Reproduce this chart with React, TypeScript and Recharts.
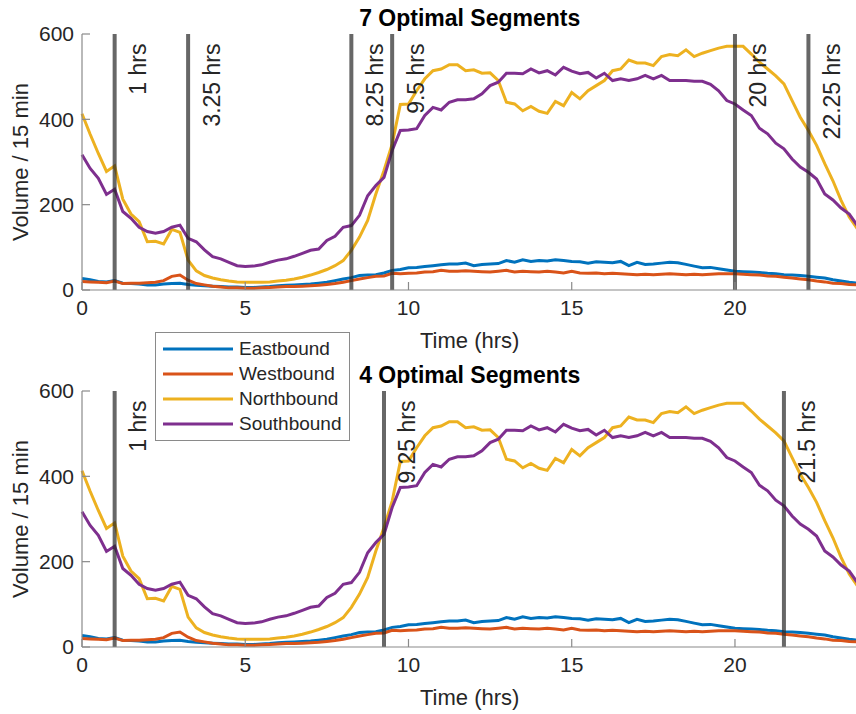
import { LineChart, Line, XAxis, YAxis, ReferenceLine, Legend } from 'recharts';

// volume per 15 min, 0:00 .. 23:45
const eastbound = [
  27, 24, 20, 19, 22, 16, 15, 14, 12, 12, 14, 15, 16, 13, 11, 10,
  9, 8, 7, 7, 6, 6, 7, 8, 10, 11, 12, 13, 14, 16, 18, 22,
  26, 29, 34, 35, 36, 40, 46, 48, 52, 53, 55, 57, 59, 61, 61, 63,
  57, 60, 61, 62, 69, 65, 71, 67, 69, 68, 71, 69, 67, 66, 63, 66,
  65, 64, 67, 57, 65, 60, 61, 63, 65, 64, 60, 56, 52, 53, 50, 47,
  44, 43, 42, 41, 39, 38, 36, 35, 34, 32, 30, 28, 24, 21, 18, 16,
];
const westbound = [
  20, 19, 18, 17, 21, 15, 16, 16, 17, 18, 22, 32, 35, 23, 15, 12,
  9, 7, 5, 5, 4, 4, 5, 6, 7, 8, 8, 9, 10, 11, 13, 15,
  18, 22, 26, 29, 32, 33, 39, 38, 39, 40, 42, 43, 46, 44, 44, 45,
  44, 43, 42, 44, 46, 42, 44, 43, 42, 44, 42, 40, 44, 40, 39, 40,
  38, 39, 38, 37, 36, 37, 36, 37, 38, 37, 36, 37, 36, 37, 38, 38,
  38, 37, 36, 35, 33, 32, 30, 28, 26, 24, 21, 19, 16, 15, 13, 12,
];
const northbound = [
  413, 365, 320, 278, 291, 213, 178, 160, 113, 114, 108, 142, 135, 70, 45, 34,
  28, 24, 21, 19, 18, 18, 18, 19, 21, 23, 26, 30, 35, 41, 48, 57,
  69, 93, 124, 163, 225, 280, 342, 435, 436, 467, 495, 514, 518, 528, 528, 514,
  516, 508, 509, 491, 440, 436, 420, 430, 419, 414, 442, 432, 463, 448, 467, 479,
  491, 514, 518, 539, 532, 532, 526, 547, 552, 549, 563, 547, 555, 561, 567, 571,
  571, 571, 553, 534, 518, 502, 483, 444, 405, 374, 339, 296, 256, 210, 171, 143,
];
const southbound = [
  317, 285, 262, 224, 236, 184, 168, 147, 137, 133, 137, 147, 152, 121, 113, 94,
  78, 73, 65, 57, 55, 56, 59, 65, 70, 73, 79, 86, 93, 96, 116, 126,
  147, 151, 175, 221, 245, 264, 327, 374, 375, 378, 409, 428, 422, 440, 446, 446,
  448, 460, 479, 487, 508, 508, 507, 518, 509, 514, 504, 522, 513, 507, 510, 497,
  508, 491, 495, 491, 495, 503, 495, 503, 491, 491, 491, 489, 489, 482, 467, 444,
  436, 422, 409, 379, 366, 344, 331, 307, 288, 276, 260, 225, 211, 192, 178, 151,
];
const hours = eastbound.map((_, i) => i / 4);

const topBreaks = [1, 3.25, 8.25, 9.5, 20, 22.25];
const bottomBreaks = [1, 9.25, 21.5];
const xTicks = [0, 5, 10, 15, 20];
const yTicks = [0, 200, 400, 600];
const legendOrder = ['Eastbound', 'Westbound', 'Northbound', 'Southbound'];

const data = hours.map((h, i) => ({
  h,
  eb: eastbound[i],
  wb: westbound[i],
  nb: northbound[i],
  sb: southbound[i],
}));

const FONT = '"Liberation Sans", Arial, Helvetica, sans-serif';
const AXIS = '#8a8a8a';
const INK = '#262626';
const LW = 3;

const tickStyle = { fontSize: 21, fill: INK, fontFamily: FONT };

function breakLabel(text: string) {
  return (p: any) => {
    const vb = p.viewBox ?? p;
    const x = vb.x + 31.5;
    const y = vb.y + 9.5;
    return (
      <text
        x={x}
        y={y}
        transform={`rotate(-90 ${x} ${y})`}
        textAnchor="end"
        fontSize={23}
        fontFamily={FONT}
        fill={INK}
      >
        {text}
      </text>
    );
  };
}

function LegendBox(props: any) {
  const items = [...(props.payload ?? [])].sort(
    (a: any, b: any) => legendOrder.indexOf(a.value) - legendOrder.indexOf(b.value),
  );
  return (
    <div
      style={{
        width: 193,
        height: 104,
        border: `1px solid ${AXIS}`,
        background: '#fff',
        paddingTop: 3,
        boxSizing: 'content-box',
        fontFamily: FONT,
        fontSize: 19,
        color: INK,
      }}
    >
      {items.map((e: any) => (
        <div key={e.value} style={{ display: 'flex', alignItems: 'center', height: 25 }}>
          <svg width={70} height={6} style={{ marginLeft: 7, marginRight: 6 }}>
            <line x1={0} y1={3} x2={70} y2={3} stroke={e.color} strokeWidth={LW} />
          </svg>
          <span>{e.value}</span>
        </div>
      ))}
    </div>
  );
}

function Panel({ title, breaks, top, legend }: { title: string; breaks: number[]; top: number; legend?: boolean }) {
  return (
    <div style={{ position: 'absolute', left: 0, top }}>
      <div
        style={{
          position: 'absolute',
          left: 82,
          width: 775.4,
          top: 5,
          textAlign: 'center',
          fontFamily: FONT,
          fontSize: 23,
          fontWeight: 'bold',
          lineHeight: '26px',
          color: '#000',
          whiteSpace: 'nowrap',
        }}
      >
        {title}
      </div>
      <LineChart width={870} height={362} data={data} margin={{ top: 34, right: 12.6, bottom: 0, left: 0 }}>
        <XAxis
          dataKey="h"
          type="number"
          domain={[0, 23.75]}
          ticks={xTicks}
          tickSize={-8}
          tickMargin={18.3}
          height={72}
          axisLine={{ stroke: AXIS, strokeWidth: 1.2 }}
          tickLine={{ stroke: AXIS, strokeWidth: 1.2 }}
          tick={tickStyle}
          label={(p: any) => {
            const vb = p.viewBox ?? p;
            return (
              <text x={vb.x + vb.width / 2} y={vb.y + 58} textAnchor="middle" fontSize={22} fontFamily={FONT} fill={INK}>
                Time (hrs)
              </text>
            );
          }}
        />
        <XAxis
          xAxisId="top"
          orientation="top"
          dataKey="h"
          type="number"
          domain={[0, 23.75]}
          ticks={xTicks}
          tickSize={-8}
          tick={false}
          height={0}
          axisLine={{ stroke: AXIS, strokeWidth: 1.2 }}
          tickLine={{ stroke: AXIS, strokeWidth: 1.2 }}
        />
        <YAxis
          domain={[0, 600]}
          ticks={yTicks}
          tickSize={-8}
          tickMargin={16}
          width={82}
          axisLine={{ stroke: AXIS, strokeWidth: 1.2 }}
          tickLine={{ stroke: AXIS, strokeWidth: 1.2 }}
          tick={tickStyle}
          label={(p: any) => {
            const vb = p.viewBox ?? p;
            const x = vb.x + 28;
            const y = vb.y + vb.height / 2;
            return (
              <text
                x={x}
                y={y}
                transform={`rotate(-90 ${x} ${y})`}
                textAnchor="middle"
                fontSize={22}
                fontFamily={FONT}
                fill={INK}
              >
                Volume / 15 min
              </text>
            );
          }}
        />
        <YAxis
          yAxisId="r"
          orientation="right"
          domain={[0, 600]}
          ticks={yTicks}
          tickSize={-8}
          tick={false}
          width={0}
          axisLine={{ stroke: AXIS, strokeWidth: 1.2 }}
          tickLine={{ stroke: AXIS, strokeWidth: 1.2 }}
        />
        <Line dataKey="eb" name="Eastbound" stroke="#0072BD" strokeWidth={LW} dot={false} type="linear" isAnimationActive={false} />
        <Line dataKey="wb" name="Westbound" stroke="#D95319" strokeWidth={LW} dot={false} type="linear" isAnimationActive={false} />
        <Line dataKey="nb" name="Northbound" stroke="#EDB120" strokeWidth={LW} dot={false} type="linear" isAnimationActive={false} />
        <Line dataKey="sb" name="Southbound" stroke="#7E2F8E" strokeWidth={LW} dot={false} type="linear" isAnimationActive={false} />
        {breaks.map((b) => (
          <ReferenceLine
            key={b}
            x={b}
            stroke={INK}
            strokeOpacity={0.7}
            strokeWidth={4}
            label={breakLabel(`${b} hrs`)}
          />
        ))}
        {legend && (
          <Legend
            layout="vertical"
            align="center"
            verticalAlign="middle"
            content={LegendBox}
            wrapperStyle={{ position: 'absolute', left: 155, top: -25, width: 195, height: 108, zIndex: 5 }}
          />
        )}
      </LineChart>
    </div>
  );
}

export default function App() {
  return (
    <div
      style={{
        position: 'absolute',
        left: 0,
        top: 0,
        width: 856,
        height: 714,
        overflow: 'hidden',
        background: '#fff',
      }}
    >
      <Panel title="7 Optimal Segments" breaks={topBreaks} top={0} />
      <Panel title="4 Optimal Segments" breaks={bottomBreaks} top={357} legend />
    </div>
  );
}
